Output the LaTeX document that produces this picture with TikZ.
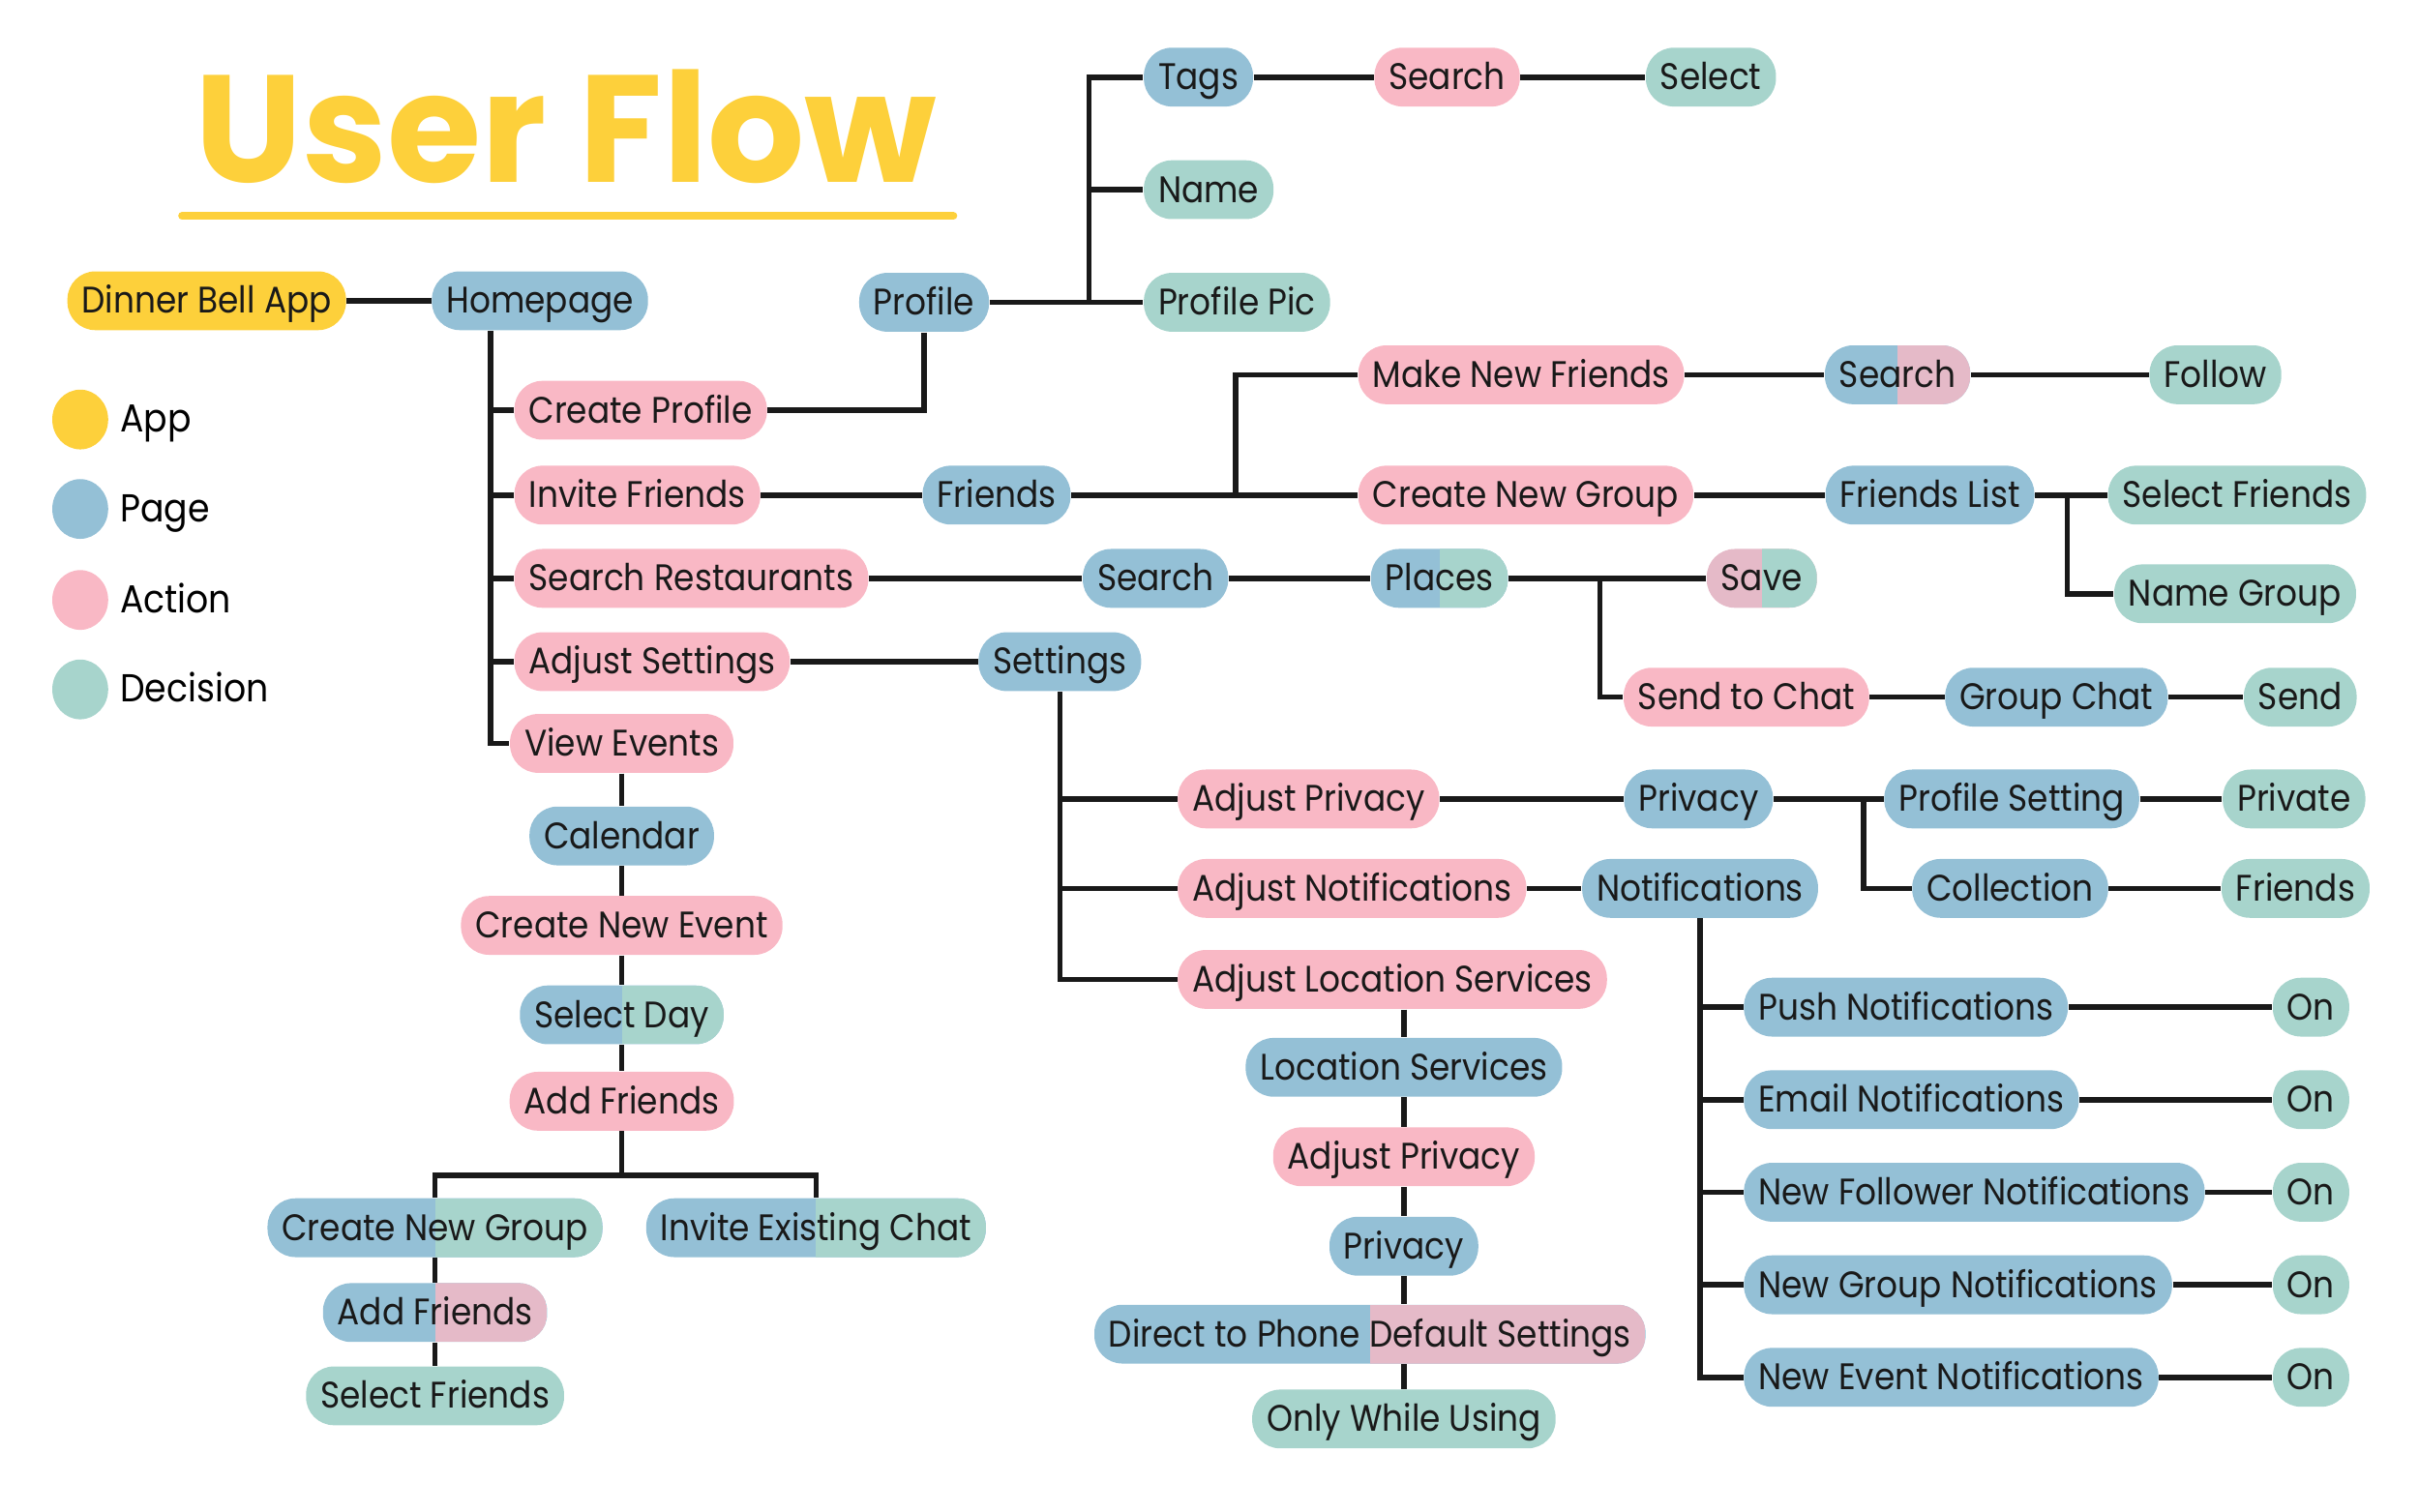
\documentclass[tikz,border=0pt]{standalone}
\usepackage{fontspec}
\setmainfont{Poppins}
\newfontfamily\boxfont{Poppins}[FakeStretch=0.9]
\usetikzlibrary{positioning,shapes.geometric}
\definecolor{ufyellow}{HTML}{FDD03B}
\definecolor{ufblue}{HTML}{94C0D6}
\definecolor{ufpink}{HTML}{F9B8C5}
\definecolor{ufteal}{HTML}{A7D4CC}
\definecolor{ufmauve}{HTML}{E5BAC8}

\begin{document}
\begin{tikzpicture}[
  x=0.16mm, y=-0.16mm,
  box/.style={rectangle, rounded corners=2.9mm, minimum height=6.1mm, inner xsep=1.5mm,
    inner ysep=0pt, text height=3.2mm, text depth=0.6mm,
    font=\boxfont\fontsize{10.9}{12}\selectfont, text=black!90},
  app/.style={box, fill=ufyellow},
  page/.style={box, fill=ufblue},
  action/.style={box, fill=ufpink},
  decision/.style={box, fill=ufteal},
  halves/.style 2 args={box, fill=#1, path picture={
    \fill[#2, sharp corners] (path picture bounding box.north)
      rectangle (path picture bounding box.south east);}},
  link/.style={line width=1.6pt, black!90},
  legdot/.style={ellipse, minimum width=5.8mm, minimum height=6.2mm, inner sep=0pt},
  legtext/.style={font=\boxfont\fontsize{11.5}{13}\selectfont, text height=3.2mm, text depth=0.6mm,
    inner sep=0pt}
]
  \useasboundingbox (0,0) rectangle (1568,980);

  % Title
  \node[font=\bfseries\fontsize{45}{45}\selectfont, text=ufyellow, anchor=base] (title)
    at (367,118) {User Flow};
  \draw[ufyellow, line width=0.8mm, line cap=round] (118,140) -- (618,140);

  % Legend
  \node[legdot, fill=ufyellow] (kapp) at (52,272) {};
  \node[legdot, fill=ufblue] (kpage) at (52,330) {};
  \node[legdot, fill=ufpink] (kact) at (52,389) {};
  \node[legdot, fill=ufteal] (kdec) at (52,447) {};
  \node[legtext, right=1.1mm of kapp] (lapp) {App};
  \node[legtext, right=1.1mm of kpage] (lpage) {Page};
  \node[legtext, right=1.1mm of kact] (lact) {Action};
  \node[legtext, right=1.1mm of kdec] (ldec) {Decision};

  % App and homepage
  \node[app] (dba) at (134,195) {Dinner Bell App};
  \node[page] (home) at (350,195) {Homepage};
  \node[action, anchor=west] (cprof) at (333,266) {Create Profile};
  \node[action, anchor=west] (invf) at (333,321) {Invite Friends};
  \node[action, anchor=west] (srest) at (333,375) {Search Restaurants};
  \node[action, anchor=west] (adjs) at (333,429) {Adjust Settings};
  \node[action] (vev) at (403,482) {View Events};

  % Profile
  \node[page] (prof) at (599,196) {Profile};
  \node[page, anchor=west] (tags) at (741,50) {Tags};
  \node[action] (tsrch) at (938,50) {Search};
  \node[decision] (tsel) at (1109,50) {Select};
  \node[decision, anchor=west] (pname) at (741,123) {Name};
  \node[decision, anchor=west] (ppic) at (741,196) {Profile Pic};

  % Friends
  \node[page] (frnds) at (646,321) {Friends};
  \node[action, anchor=west] (mnf) at (880,243) {Make New Friends};
  \node[halves={ufblue}{ufmauve}] (fsrch) at (1230,243) {Search};
  \node[decision] (follow) at (1436,243) {Follow};
  \node[action, anchor=west] (cng) at (880,321) {Create New Group};
  \node[page] (flist) at (1251,321) {Friends List};
  \node[decision, anchor=west] (self) at (1366,321) {Select Friends};
  \node[decision, anchor=west] (ngrp) at (1370,385) {Name Group};

  % Restaurants
  \node[page] (rsrch) at (749,375) {Search};
  \node[halves={ufblue}{ufteal}] (places) at (933,375) {Places};
  \node[halves={ufmauve}{ufteal}] (save) at (1142,375) {Save};
  \node[action] (stc) at (1132,452) {Send to Chat};
  \node[page] (gchat) at (1333,452) {Group Chat};
  \node[decision] (send) at (1491,452) {Send};

  % Settings
  \node[page] (sett) at (687,429) {Settings};
  \node[action, anchor=west] (aprv) at (763,518) {Adjust Privacy};
  \node[action, anchor=west] (anot) at (763,576) {Adjust Notifications};
  \node[action, anchor=west] (aloc) at (763,635) {Adjust Location Services};
  \node[page] (prv) at (1101,518) {Privacy};
  \node[page] (pset) at (1304,518) {Profile Setting};
  \node[decision] (prvt) at (1487,518) {Private};
  \node[page] (notif) at (1102,576) {Notifications};
  \node[page] (coll) at (1303,576) {Collection};
  \node[decision] (cfr) at (1488,576) {Friends};

  % Location services
  \node[page] (locs) at (910,692) {Location Services};
  \node[action] (aprv2) at (910,750) {Adjust Privacy};
  \node[page] (prv2) at (910,808) {Privacy};
  \node[halves={ufblue}{ufmauve}] (dtp) at (888,865) {Direct to Phone Default Settings};
  \node[decision] (owu) at (910,920) {Only While Using};

  % Notifications
  \foreach \y/\n/\t in {653/npush/Push Notifications, 713/nmail/Email Notifications,
      773/nfoll/New Follower Notifications, 833/ngrpn/New Group Notifications,
      893/nevt/New Event Notifications} {
    \node[page, anchor=west] (\n) at (1130,\y) {\t};
    \node[decision] (on-\n) at (1498,\y) {On};
    \draw[link] (\n) -- (on-\n);
  }

  % Events
  \node[page] (cal) at (403,542) {Calendar};
  \node[action] (cnev) at (403,600) {Create New Event};
  \node[halves={ufblue}{ufteal}] (sday) at (403,658) {Select Day};
  \node[action] (addf) at (403,714) {Add Friends};
  \node[halves={ufblue}{ufteal}] (bcng) at (282,796) {Create New Group};
  \node[halves={ufblue}{ufteal}] (iec) at (529,796) {Invite Existing Chat};
  \node[halves={ufblue}{ufmauve}] (baddf) at (282,851) {Add Friends};
  \node[decision] (bself) at (282,905) {Select Friends};

  % Junction points
  \coordinate (hj) at (318,0);
  \coordinate (pj) at (706,0);
  \coordinate (fj) at (801,0);
  \coordinate (lj) at (1340,0);
  \coordinate (cj) at (1037,0);
  \coordinate (sj) at (1208,0);
  \coordinate (lx) at (910,0);
  \coordinate (aj) at (403,762);

  % Links
  \draw[link] (dba) -- (home);
  \draw[link] (hj |- home.south) |- (vev.west);
  \foreach \n in {cprof,invf,srest,adjs}
    \draw[link] (hj |- \n) -- (\n.west);
  \draw[link] (cprof.east) -| (prof.south);
  \draw[link] (prof) -- (ppic);
  \draw[link] (pj |- ppic) |- (tags.west);
  \draw[link] (pj |- pname) -- (pname.west);
  \draw[link] (tags) -- (tsrch) -- (tsel);

  \draw[link] (invf) -- (frnds) -- (cng);
  \draw[link] (fj |- cng) |- (mnf.west);
  \draw[link] (mnf) -- (fsrch) -- (follow);
  \draw[link] (cng) -- (flist) -- (self);
  \draw[link] (lj |- flist) |- (ngrp.west);

  \draw[link] (srest) -- (rsrch) -- (places) -- (save);
  \draw[link] (cj |- places) |- (stc.west);
  \draw[link] (stc) -- (gchat) -- (send);

  \draw[link] (adjs) -- (sett);
  \draw[link] (sett.south) |- (aloc.west);
  \draw[link] (sett.south |- aprv) -- (aprv.west);
  \draw[link] (sett.south |- anot) -- (anot.west);
  \draw[link] (aprv) -- (prv) -- (pset) -- (prvt);
  \draw[link] (sj |- pset) |- (coll.west);
  \draw[link] (coll) -- (cfr);
  \draw[link] (anot) -- (notif);
  \draw[link] (notif.south) |- (nevt.west);
  \foreach \n in {npush,nmail,nfoll,ngrpn}
    \draw[link] (notif.south |- \n) -- (\n.west);

  \foreach \a/\b in {aloc/locs, locs/aprv2, aprv2/prv2, prv2/dtp, dtp/owu}
    \draw[link] (lx |- \a.south) -- (lx |- \b.north);

  \draw[link] (vev) -- (cal) -- (cnev) -- (sday) -- (addf) -- (aj);
  \draw[link] (bcng.north) |- (aj) -| (iec.north);
  \draw[link] (bcng) -- (baddf) -- (bself);
\end{tikzpicture}
\end{document}
